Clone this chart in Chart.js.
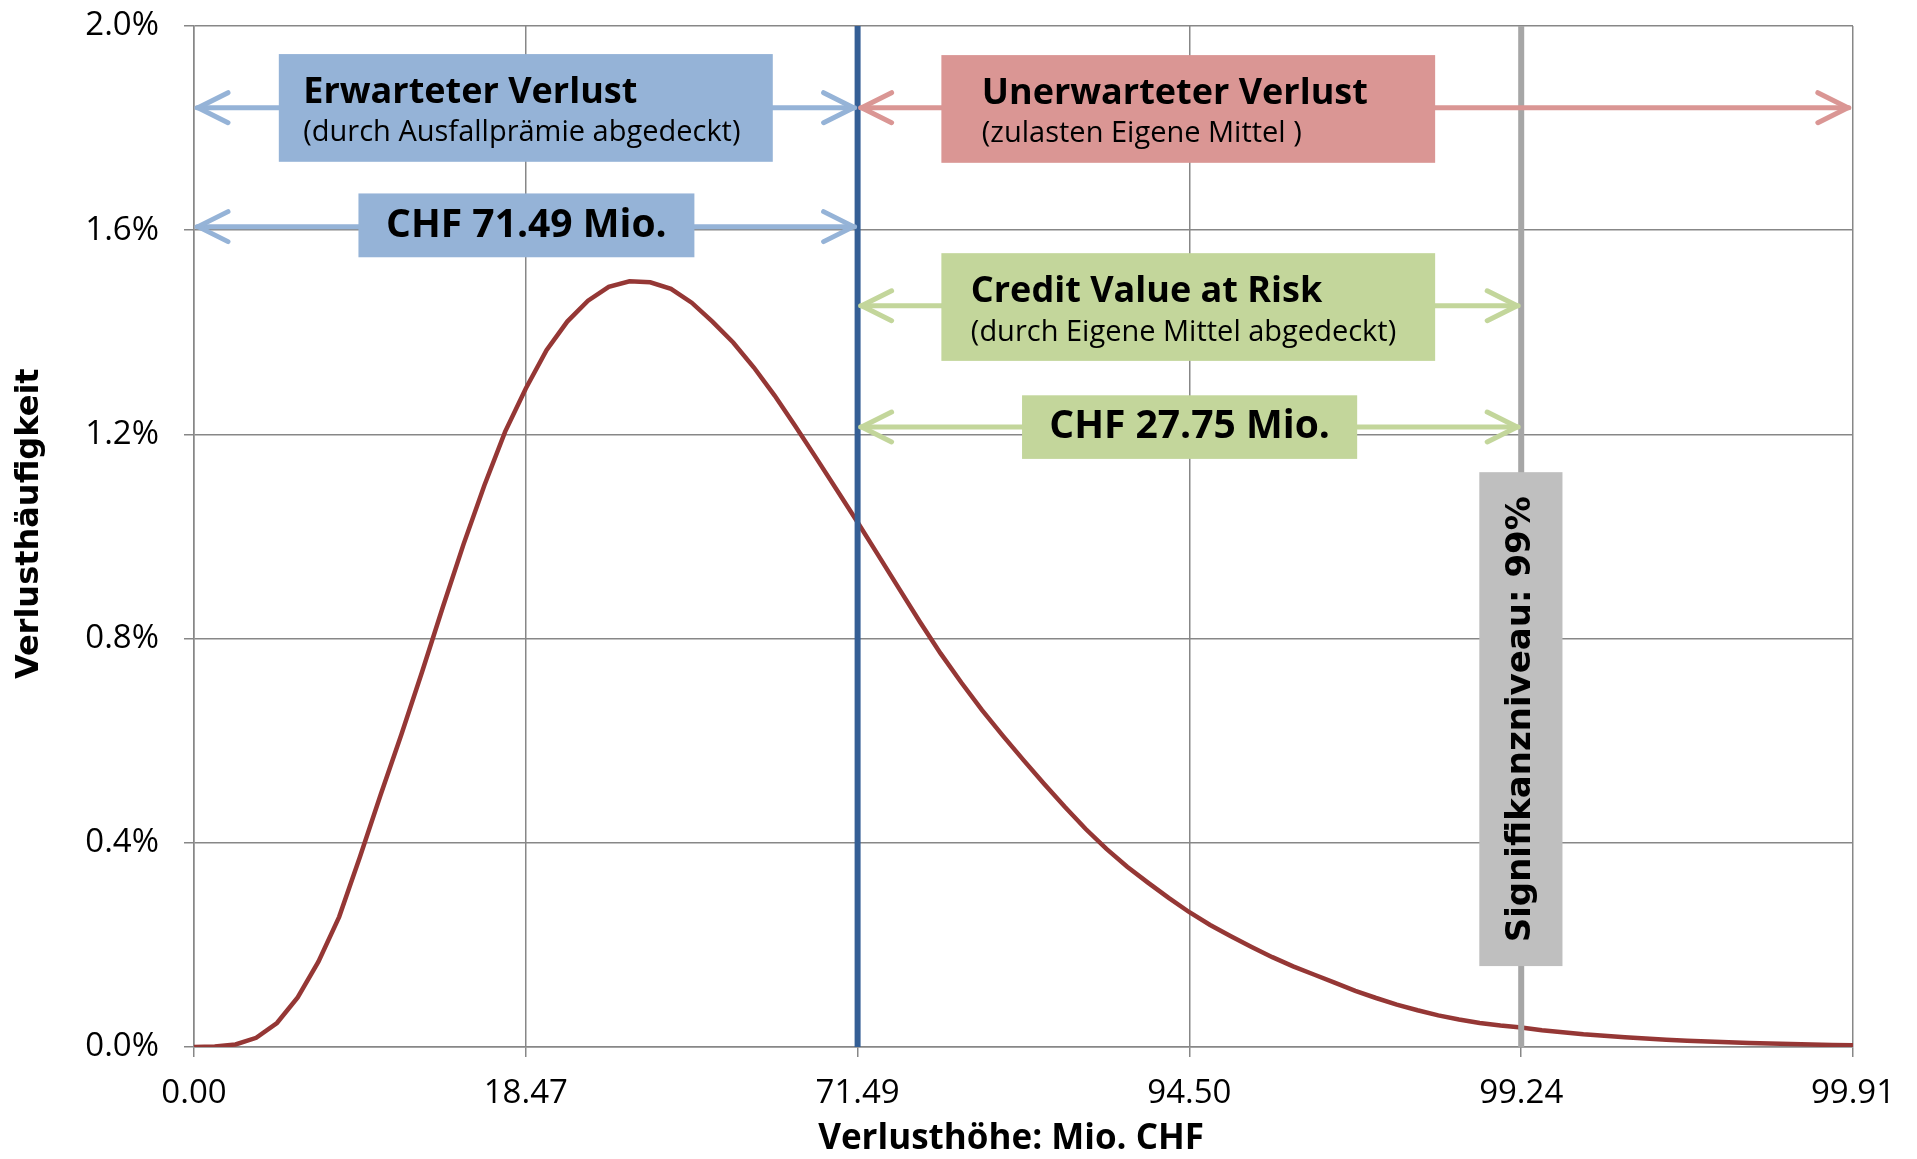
<!DOCTYPE html>
<html><head><meta charset="utf-8">
<script src="https://cdn.jsdelivr.net/npm/chart.js@4.4.1/dist/chart.umd.min.js"></script>
<style>html,body{margin:0;padding:0;background:#fff;overflow:hidden}canvas{display:block}</style>
</head><body><canvas id="c" width="1917" height="1159"></canvas>
<script>
// ---- data ----
const xTickLabels = ['0.00', '18.47', '71.49', '94.50', '99.24', '99.91'];
const pointsPerTick = 16;
const frequencyPct = [
  0, 0.001, 0.005, 0.018, 0.047, 0.097, 0.167, 0.255, 0.372, 0.494,
  0.612, 0.735, 0.862, 0.985, 1.100, 1.205, 1.290, 1.365, 1.421, 1.462,
  1.489, 1.500, 1.498, 1.485, 1.458, 1.421, 1.380, 1.331, 1.276, 1.216,
  1.154, 1.091, 1.028, 0.963, 0.898, 0.833, 0.771, 0.714, 0.660, 0.610,
  0.562, 0.515, 0.470, 0.427, 0.388, 0.353, 0.322, 0.292, 0.264, 0.239,
  0.217, 0.196, 0.176, 0.158, 0.142, 0.126, 0.110, 0.096, 0.083, 0.072,
  0.062, 0.054, 0.047, 0.042, 0.038, 0.033, 0.029, 0.025, 0.022, 0.019,
  0.0165, 0.0143, 0.0123, 0.0106, 0.0091, 0.0078, 0.0067, 0.0057, 0.0048, 0.004,
  0.0033
];
const yTickStep = 0.4;
const yMax = 2.0;
const expectedLossIndex = 32;   // 71.49
const varIndex = 64;            // 99.24
const expectedLossText = 'CHF 71.49 Mio.';
const creditVaRText = 'CHF 27.75 Mio.';

const SANS = '"Open Sans", "Noto Sans", sans-serif';
const WIDE = '"DejaVu Sans", Verdana, sans-serif';
const BLUE = '#95B3D7', RED = '#DA9694', GREEN = '#C3D69B', GREY = '#BFBFBF';

function doubleArrow(ctx, x1, x2, y, color) {
  ctx.save();
  ctx.strokeStyle = color; ctx.lineWidth = 5; ctx.lineCap = 'round'; ctx.lineJoin = 'round';
  ctx.beginPath(); ctx.moveTo(x1, y); ctx.lineTo(x2, y); ctx.stroke();
  ctx.beginPath();
  ctx.moveTo(x1 + 31, y - 15); ctx.lineTo(x1 + 1, y); ctx.lineTo(x1 + 31, y + 15);
  ctx.moveTo(x2 - 31, y - 15); ctx.lineTo(x2 - 1, y); ctx.lineTo(x2 - 31, y + 15);
  ctx.stroke();
  ctx.restore();
}
function box(ctx, x1, x2, y1, y2, color) {
  ctx.save(); ctx.fillStyle = color; ctx.fillRect(x1, y1, x2 - x1, y2 - y1); ctx.restore();
}
function text(ctx, s, x, y, font, align) {
  ctx.save(); ctx.fillStyle = '#000'; ctx.font = font; ctx.textAlign = align || 'left';
  ctx.textBaseline = 'middle'; ctx.fillText(s, x, y); ctx.restore();
}

const annotations = {
  id: 'annotations',
  afterDatasetsDraw(chart) {
    const ctx = chart.ctx, xs = chart.scales.x, ys = chart.scales.y;
    const X = v => xs.getPixelForValue(v), Y = v => ys.getPixelForValue(v);
    const top = chart.chartArea.top, bottom = chart.chartArea.bottom;
    // vertical markers
    ctx.save();
    ctx.lineWidth = 6;
    ctx.strokeStyle = '#A6A6A6';
    ctx.beginPath(); ctx.moveTo(X(varIndex), top); ctx.lineTo(X(varIndex), bottom); ctx.stroke();
    ctx.strokeStyle = '#355F95';
    ctx.beginPath(); ctx.moveTo(X(expectedLossIndex), top); ctx.lineTo(X(expectedLossIndex), bottom); ctx.stroke();
    ctx.restore();

    const left = X(0) + 3, blueR = X(expectedLossIndex) - 3, blueL = X(expectedLossIndex) + 3;
    // expected loss
    doubleArrow(ctx, left, blueR, Y(1.84), BLUE);
    box(ctx, X(4.09), X(27.91), Y(1.945), Y(1.734), BLUE);
    text(ctx, 'Erwarteter Verlust', X(5.27), Y(1.876) + 3, 'bold 36px ' + SANS);
    text(ctx, '(durch Ausfallprämie abgedeckt)', X(5.27), Y(1.796) + 3, '29px ' + SANS);
    doubleArrow(ctx, left, blueR, Y(1.607), BLUE);
    box(ctx, X(7.93), X(24.13), Y(1.672), Y(1.547), BLUE);
    text(ctx, expectedLossText, X(16.03), Y(1.61) + 1, 'bold 39px ' + SANS, 'center');
    // unexpected loss
    doubleArrow(ctx, blueL, X(79.8), Y(1.84), RED);
    box(ctx, X(36.04), X(59.85), Y(1.943), Y(1.732), RED);
    text(ctx, 'Unerwarteter Verlust', X(37.99), Y(1.873) + 3, 'bold 36px ' + SANS);
    text(ctx, '(zulasten Eigene Mittel )', X(37.99), Y(1.794) + 3, '29px ' + SANS);
    // credit VaR
    doubleArrow(ctx, blueL, X(varIndex) - 3, Y(1.452), GREEN);
    box(ctx, X(36.04), X(59.85), Y(1.555), Y(1.344), GREEN);
    text(ctx, 'Credit Value at Risk', X(37.46), Y(1.485) + 3, 'bold 36px ' + SANS);
    text(ctx, '(durch Eigene Mittel abgedeckt)', X(37.46), Y(1.406) + 3, '29px ' + SANS);
    doubleArrow(ctx, blueL, X(varIndex) - 3, Y(1.2145), GREEN);
    box(ctx, X(39.93), X(56.09), Y(1.2766), Y(1.152), GREEN);
    text(ctx, creditVaRText, X(48.01), Y(1.216) + 1, 'bold 39px ' + SANS, 'center');
    // significance level
    box(ctx, X(61.98), X(65.99), Y(1.126), Y(0.1585), GREY);
    ctx.save();
    ctx.translate(X(varIndex), Y(0.642));
    ctx.rotate(-Math.PI / 2);
    text(ctx, 'Signifikanzniveau: 99%', 0, 0, 'bold 34px ' + WIDE, 'center');
    ctx.restore();
    // axis titles
    ctx.save();
    ctx.translate(30, Y(1.025));
    ctx.rotate(-Math.PI / 2);
    text(ctx, 'Verlusthäufigkeit', 0, 0, 'bold 32px ' + WIDE, 'center');
    ctx.restore();
    text(ctx, 'Verlusthöhe: Mio. CHF', X(39.4), 1139, 'bold 35px ' + SANS, 'center');
  }
};

new Chart(document.getElementById('c'), {
  type: 'line',
  data: {
    datasets: [{
      data: frequencyPct.map((v, i) => ({ x: i, y: v })),
      borderColor: '#953735', borderWidth: 4.5, pointRadius: 0, tension: 0, fill: false
    }]
  },
  options: {
    responsive: false, animation: false, devicePixelRatio: 1,
    layout: { padding: { left: 0, right: 64, top: 26, bottom: 0 } },
    plugins: { legend: { display: false }, tooltip: { enabled: false } },
    scales: {
      x: {
        type: 'linear', min: 0, max: (xTickLabels.length - 1) * pointsPerTick,
        afterBuildTicks: s => { s.ticks = xTickLabels.map((_, k) => ({ value: k * pointsPerTick })); },
        afterFit: s => { s.height = 112; },
        ticks: {
          callback: v => xTickLabels[Math.round(v / pointsPerTick)],
          font: { family: SANS, size: 33 }, color: '#000', padding: 17, maxRotation: 0, autoSkip: false
        },
        grid: { color: '#878787', lineWidth: 1.5, tickLength: 10 },
        border: { color: '#878787', width: 1.5 }
      },
      y: {
        min: 0, max: yMax,
        afterBuildTicks: s => {
          const t = []; for (let v = 0; v <= yMax + 1e-9; v += yTickStep) t.push({ value: +v.toFixed(2) }); s.ticks = t;
        },
        afterFit: s => { s.width = 194; s.paddingTop = 0; s.paddingBottom = 0; },
        ticks: {
          callback: v => v.toFixed(1) + '%',
          font: { family: SANS, size: 33 }, color: '#000', padding: 25
        },
        grid: { color: '#878787', lineWidth: 1.5, tickLength: 10 },
        border: { color: '#878787', width: 1.5 }
      }
    }
  },
  plugins: [annotations]
});
</script>
</body></html>
